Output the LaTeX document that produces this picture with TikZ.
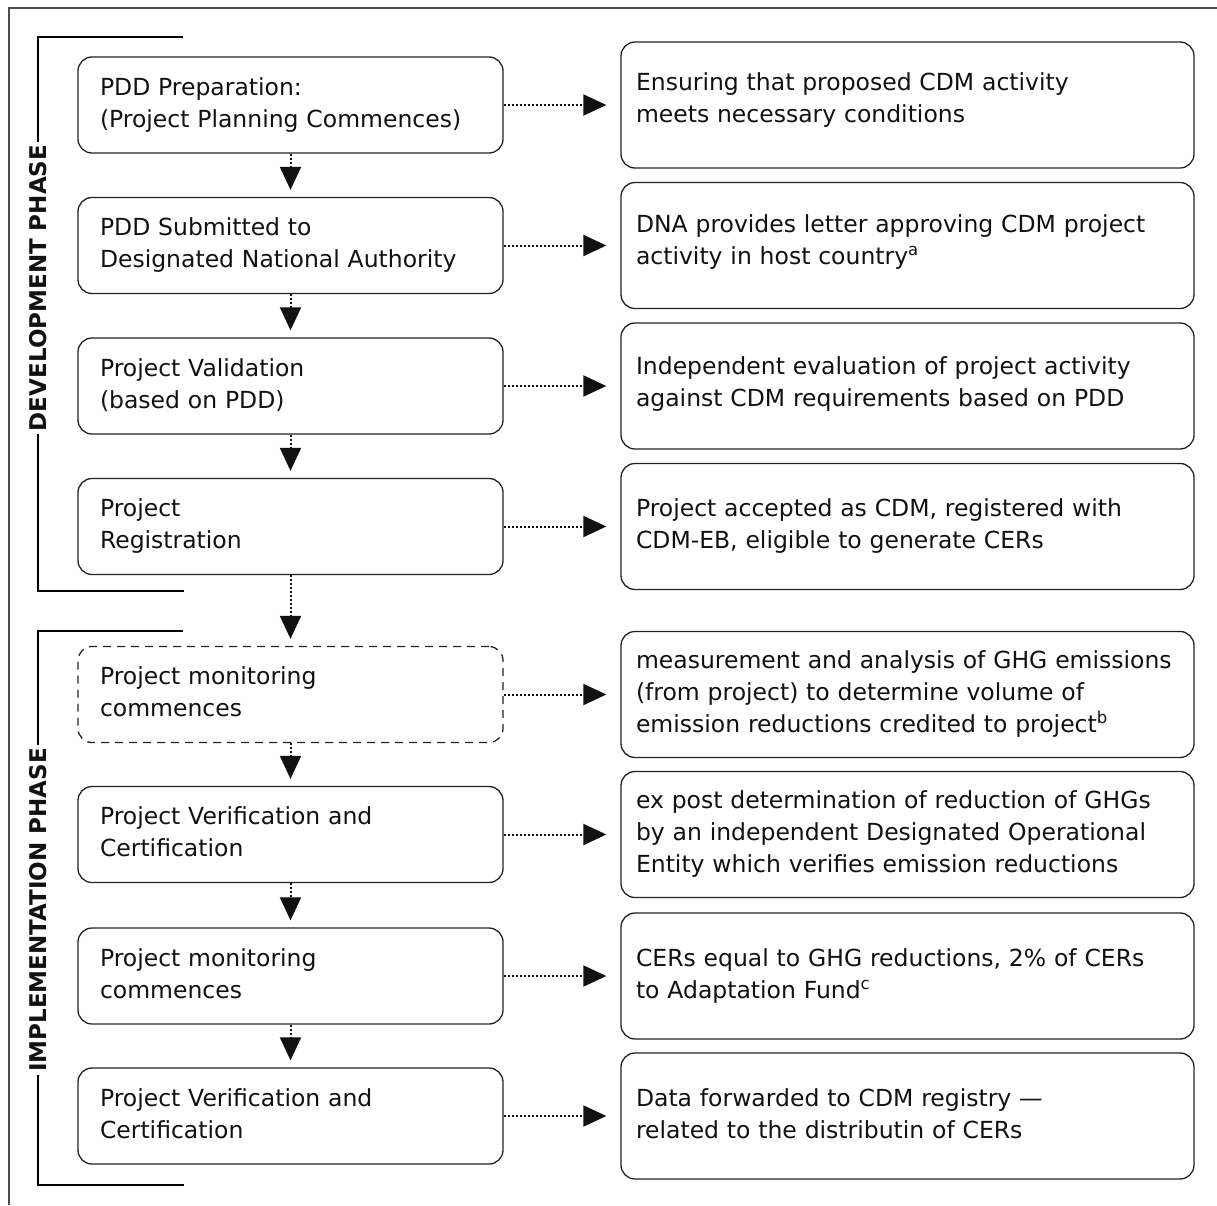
\documentclass[tikz,border=0pt]{standalone}
\usepackage{fontspec}
\setmainfont{DejaVu Sans}
\usetikzlibrary{arrows.meta}
\definecolor{ink}{HTML}{111111}
\definecolor{edge}{HTML}{222222}
% raise a two-line text block by #1 pt inside its box
\newcommand{\liftby}[1]{\\[\dimexpr 2\dimexpr #1pt\relax - 22.4pt\relax]\mbox{}}
\tikzset{
  x=1pt, y=-1pt,
  every node/.style={font=\fontsize{23.5}{32}\selectfont, text=ink},
  lbox/.style={draw=edge, line width=1.3pt, rounded corners=14pt, minimum width=425pt, minimum height=96pt,
    inner xsep=22pt, inner ysep=0pt, text width=381pt, align=left},
  dbox/.style={lbox, dash pattern=on 8pt off 6pt},
  rbox/.style={draw=edge, line width=1.3pt, rounded corners=14pt, minimum width=573pt, minimum height=126pt,
    inner xsep=15pt, inner ysep=0pt, text width=543pt, align=left},
  flow/.style={ink, line width=2pt, dash pattern=on 2pt off 2pt, -{Triangle[length=23pt,width=21pt]}},
  bracket/.style={black, line width=2.2pt},
  phase/.style={font=\fontsize{23}{26}\selectfont\bfseries, rotate=90, fill=white, inner xsep=3pt, inner ysep=1pt},
}
\begin{document}
\begin{tikzpicture}
\useasboundingbox (0,0) rectangle (1217,1205);
% outer frame
\draw[gray!60!black, line width=1.2pt] (9,1205) -- (9,8) -- (1217,8);
% brackets
\draw[bracket] (183,37) -- (38,37) -- (38,591) -- (184,591);
\draw[bracket] (183,631) -- (38,631) -- (38,1185) -- (184,1185);
\node[phase] (devlab) at (38,288) {DEVELOPMENT PHASE};
\node[phase] (implab) at (38,910) {IMPLEMENTATION PHASE};
% left column
\node[lbox] (l1) at (290.5,105) {\strut PDD Preparation:\\\strut(Project Planning Commences)};
\node[lbox] (l2) at (290.5,245.5) {\strut PDD Submitted to\\\strut Designated National Authority};
\node[lbox] (l3) at (290.5,386) {\strut Project Validation\\\strut(based on PDD)};
\node[lbox] (l4) at (290.5,526.5) {\strut Project\\\strut Registration};
\node[dbox] (l5) at (290.5,694.5) {\strut Project monitoring\\\strut commences};
\node[lbox] (l6) at (290.5,834.5) {\strut Project Verification and\\\strut Certification};
\node[lbox] (l7) at (290.5,976) {\strut Project monitoring\\\strut commences};
\node[lbox] (l8) at (290.5,1116) {\strut Project Verification and\\\strut Certification};
% right column
\node[rbox] (r1) at (907.5,105) {\strut Ensuring that proposed CDM activity\\\strut meets necessary conditions\liftby{5}};
\node[rbox] (r2) at (907.5,245.5) {\strut DNA provides letter approving CDM project\\\strut activity in host country\textsuperscript{a}\liftby{3}};
\node[rbox] (r3) at (907.5,386) {\strut Independent evaluation of project activity\\\strut against CDM requirements based on PDD\liftby{2}};
\node[rbox] (r4) at (907.5,526.5) {\strut Project accepted as CDM, registered with\\\strut CDM-EB, eligible to generate CERs};
\node[rbox] (r5) at (907.5,694.5) {\strut measurement and analysis of GHG emissions\\\strut (from project) to determine volume of\\\strut emission reductions credited to project\textsuperscript{b}};
\node[rbox] (r6) at (907.5,834.5) {\strut ex post determination of reduction of GHGs\\\strut by an independent Designated Operational\\\strut Entity which verifies emission reductions};
\node[rbox] (r7) at (907.5,976) {\strut CERs equal to GHG reductions, 2\% of CERs\\\strut to Adaptation Fund\textsuperscript{c}};
\node[rbox] (r8) at (907.5,1116) {\strut Data forwarded to CDM registry —\\\strut related to the distributin of CERs};
% vertical connectors
\foreach \a/\b in {l1/l2,l2/l3,l3/l4,l4/l5,l5/l6,l6/l7,l7/l8}
  \draw[flow, shorten >=7pt] (\a.south) -- (\b.north);
% horizontal connectors
\foreach \i in {1,...,8}
  \draw[flow, shorten >=14pt] (l\i.east) -- (r\i.west);
\end{tikzpicture}
\end{document}
